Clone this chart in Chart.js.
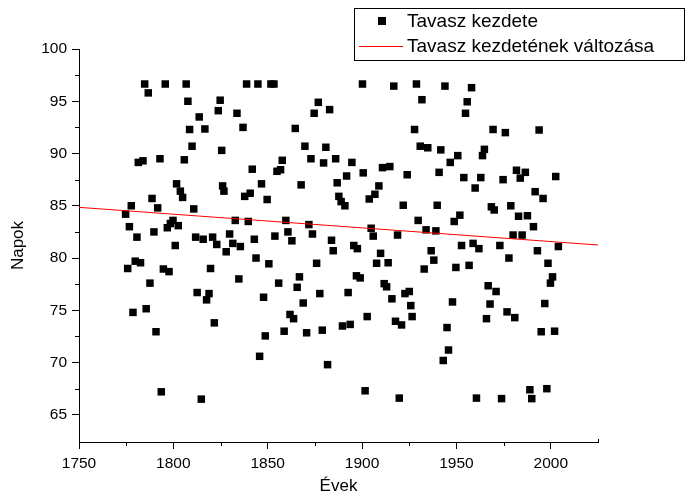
<!DOCTYPE html>
<html lang="hu">
<head>
<meta charset="UTF-8">
<title>Tavasz kezdete</title>
<script src="https://cdn.jsdelivr.net/npm/chart.js"></script>
<style>
  html, body { margin: 0; padding: 0; background: #fff; }
  canvas { display: block; }
</style>
</head>
<body>
<canvas id="myChart" width="686" height="497"></canvas>
<script>
// Adatok
const years = [
  1784.8, 1795.7, 1806.8, 1786.7, 1807.7, 1824.8, 1823.8, 1813.7, 1808.6, 1816.7,
  1809.9, 1825.6, 1781.4, 1783.9, 1792.9, 1805.8, 1801.7, 1803.7, 1804.9, 1826.1,
  1826.8, 1788.7, 1777.7, 1791.7, 1810.8, 1774.7, 1776.7, 1799.8, 1798.4, 1796.8,
  1802.6, 1789.7, 1780.7, 1811.8, 1815.8, 1820.8, 1801.0, 1823.0, 1828.0, 1779.8,
  1782.6, 1775.8, 1794.7, 1797.7, 1819.7, 1787.6, 1812.6, 1818.9, 1817.6, 1778.6,
  1785.6, 1790.8, 1821.7, 1793.6, 1814.8,
  1838.8, 1844.8, 1851.7, 1853.3, 1900.2, 1876.8, 1874.6, 1882.8, 1833.7, 1836.9,
  1864.6, 1869.7, 1880.8, 1857.7, 1872.9, 1879.6, 1886.0, 1894.6, 1841.8, 1854.9,
  1856.8, 1846.7, 1867.7, 1891.8, 1886.8, 1837.8, 1840.7, 1849.7, 1887.7, 1888.9,
  1890.9, 1832.8, 1839.7, 1859.6, 1871.8, 1829.8, 1831.5, 1835.5, 1842.9, 1853.8,
  1860.7, 1862.8, 1873.7, 1883.8, 1895.6, 1897.5,
  1884.7, 1843.8, 1850.6, 1875.9, 1834.7, 1855.8, 1866.8, 1865.6, 1897.0, 1899.0,
  1847.8, 1868.8, 1877.6, 1892.6, 1861.8, 1863.7, 1848.7, 1858.7, 1870.6, 1878.9,
  1889.6, 1893.7, 1845.7, 1881.7,
  1916.8, 1928.8, 1943.9, 1958.0, 1931.7, 1955.7, 1954.8, 1927.8, 1969.4, 1930.8,
  1934.8, 1941.7, 1950.7, 1946.7, 1964.8, 1963.8, 1900.6, 1910.8, 1914.7, 1923.9,
  1940.8, 1953.9, 1962.9, 1908.9, 1906.8, 1903.8, 1959.9, 1921.8, 1939.8, 1968.5,
  1970.0, 1951.8, 1948.8, 1929.7, 1904.8, 1905.9, 1918.8, 1933.9, 1939.1, 1952.7,
  1958.8,
  1909.8, 1907.7, 1913.8, 1936.6, 1938.0, 1932.9, 1961.9, 1949.7, 1956.7, 1911.7,
  1913.0, 1922.7, 1925.0, 1915.8, 1925.8, 1902.7, 1917.7, 1920.9, 1926.5, 1947.9,
  1945.0, 1945.8, 1943.0, 1966.8, 1971.0, 1967.8, 1965.9, 1901.6, 1919.7, 1960.6,
  1975.9, 1993.8, 1981.8, 1986.5, 1983.8, 1974.7, 2002.6, 1991.7, 1995.9, 1978.8,
  1982.9, 1987.6, 1990.8, 1980.0, 1984.8, 1973.0, 2004.0,
  1992.9, 1977.8, 1998.5, 2000.9, 1999.8, 1996.8, 1976.8, 1980.9, 1994.9, 2002.0,
  1988.9, 1997.9, 1973.9, 1989.9
];
const days = [
  96.65, 96.65, 96.65, 95.8, 95.0, 95.1, 94.1, 93.5, 92.3, 92.35,
  90.7, 90.3, 89.15, 89.3, 89.5, 89.4, 87.1, 86.4, 85.8, 86.9,
  86.4, 85.7, 85.0, 84.8, 84.7, 84.2, 83.0, 83.6, 83.3, 82.9,
  83.1, 82.5, 82.0, 82.0, 81.8, 82.0, 81.2, 81.3, 80.6, 79.7,
  79.55, 79.0, 78.95, 78.7, 79.0, 77.6, 76.7, 76.6, 76.0, 74.8,
  75.15, 72.95, 73.8, 67.2, 66.5,
  96.65, 96.65, 96.65, 96.65, 96.65, 94.9, 93.85, 94.2, 93.85, 92.5,
  92.4, 90.7, 90.6, 89.35, 89.5, 89.1, 89.5, 89.15, 88.5, 88.3,
  88.45, 87.1, 87.0, 87.85, 87.2, 85.9, 86.2, 85.6, 85.9, 85.4,
  85.0, 83.6, 83.5, 83.6, 83.2, 82.3, 81.4, 81.1, 81.8, 82.1,
  82.5, 81.65, 82.3, 81.7, 81.2, 80.9,
  80.7, 80.0, 79.45, 79.5, 78.0, 77.6, 78.2, 77.2, 78.3, 78.1,
  76.25, 75.7, 76.6, 76.7, 74.6, 74.2, 72.55, 73.0, 72.85, 73.1,
  73.5, 73.65, 70.6, 69.8,
  96.45, 96.65, 96.45, 96.3, 95.15, 94.95, 93.85, 92.3, 92.3, 90.7,
  90.55, 90.35, 89.8, 89.15, 90.4, 89.8, 88.15, 88.65, 88.75, 87.97,
  88.2, 87.7, 87.7, 86.9, 86.1, 85.65, 86.7, 85.05, 85.05, 84.9,
  84.6, 84.1, 83.5, 83.6, 82.85, 82.1, 82.2, 82.7, 82.6, 81.2,
  81.4,
  80.45, 79.5, 79.55, 80.7, 79.8, 78.95, 80.9, 79.1, 79.3, 77.55,
  77.25, 76.6, 76.8, 76.1, 75.45, 74.4, 73.95, 73.6, 74.4, 75.8,
  73.35, 71.2, 70.2, 77.35, 76.8, 75.6, 74.2, 67.3, 66.6, 66.6,
  92.0, 92.25, 88.4, 88.2, 87.65, 87.5, 87.8, 86.35, 85.7, 85.0,
  84.0, 84.05, 83.0, 82.2, 82.2, 81.2, 81.1,
  80.7, 80.0, 79.5, 78.2, 77.6, 75.65, 74.85, 74.3, 72.95, 73.0,
  67.4, 67.5, 66.55, 66.55
];

// Trendvonal (a változás)
const trendYears = [1750, 2025];
const trendDays = [84.85, 81.25];

// Tengelyek
const xTicks = [1750, 1800, 1850, 1900, 1950, 2000];
const yTicks = [65, 70, 75, 80, 85, 90, 95, 100];
const xMinor = [1775, 1825, 1875, 1925, 1975];
const yMinor = [67.5, 72.5, 77.5, 82.5, 87.5, 92.5, 97.5];

const seriesLabels = ['Tavasz kezdete', 'Tavasz kezdetének változása'];
const FONT = "'Liberation Sans', Arial, sans-serif";

// Kis osztások + jelmagyarázat rajzolása
const extras = {
  id: 'extras',
  afterDraw(chart) {
    const ctx = chart.ctx;
    const xs = chart.scales.x, ys = chart.scales.y;
    const area = chart.chartArea;
    ctx.save();
    ctx.strokeStyle = '#000';
    ctx.lineWidth = 1;
    ctx.beginPath();
    xMinor.forEach(v => {
      const px = Math.round(xs.getPixelForValue(v)) + 0.5;
      ctx.moveTo(px, area.bottom);
      ctx.lineTo(px, area.bottom + 4);
    });
    const endPx = Math.round(xs.getPixelForValue(2025)) + 0.5;
    ctx.moveTo(endPx, area.bottom);
    ctx.lineTo(endPx, area.bottom - 3);
    yMinor.forEach(v => {
      const py = Math.round(ys.getPixelForValue(v)) + 0.5;
      ctx.moveTo(area.left, py);
      ctx.lineTo(area.left - 4, py);
    });
    ctx.stroke();

    // jelmagyarázat
    ctx.strokeRect(354.5, 8.5, 330, 52);
    ctx.fillStyle = '#000';
    ctx.fillRect(378, 17, 8, 8);
    ctx.strokeStyle = '#ff0000';
    ctx.beginPath();
    ctx.moveTo(359, 46.5);
    ctx.lineTo(403, 46.5);
    ctx.stroke();
    ctx.font = '19px ' + FONT;
    ctx.textBaseline = 'middle';
    ctx.textAlign = 'left';
    ctx.fillText(seriesLabels[0], 407, 22);
    ctx.fillText(seriesLabels[1], 407, 47);
    ctx.restore();
  }
};

const ctx = document.getElementById('myChart').getContext('2d');
new Chart(ctx, {
  data: {
    datasets: [{
      type: 'scatter',
      label: seriesLabels[0],
      data: years.map((y, i) => ({ x: y, y: days[i] })),
      pointStyle: 'rect',
      pointRadius: 5.3,
      pointHoverRadius: 5.3,
      backgroundColor: '#000',
      borderWidth: 0,
      order: 2
    }, {
      type: 'line',
      label: seriesLabels[1],
      data: trendYears.map((y, i) => ({ x: y, y: trendDays[i] })),
      borderColor: '#ff0000',
      borderWidth: 1,
      pointRadius: 0,
      fill: false,
      order: 1
    }]
  },
  options: {
    responsive: false,
    animation: false,
    layout: { padding: { top: 49, right: 88, left: 0, bottom: 0 } },
    plugins: { legend: { display: false }, tooltip: { enabled: false } },
    scales: {
      x: {
        type: 'linear',
        min: 1750,
        max: 2025,
        afterBuildTicks: s => { s.ticks = xTicks.map(v => ({ value: v })); },
        afterFit: s => { s.height = 55; },
        ticks: { color: '#000', font: { family: FONT, size: 15.5 }, padding: 5, maxRotation: 0, callback: v => String(v) },
        grid: { drawOnChartArea: false, drawTicks: true, tickLength: 7, color: '#000' },
        border: { display: true, color: '#000', width: 1 },
        title: { display: true, text: 'Évek', color: '#000', font: { family: FONT, size: 17 }, padding: { top: 0, bottom: 0 } }
      },
      y: {
        type: 'linear',
        min: 62.4,
        max: 100,
        afterBuildTicks: s => { s.ticks = yTicks.map(v => ({ value: v })); },
        afterFit: s => { s.width = 79; },
        ticks: { color: '#000', font: { family: FONT, size: 15.5 }, padding: 5, callback: v => String(v) },
        grid: { drawOnChartArea: false, drawTicks: true, tickLength: 7, color: '#000' },
        border: { display: true, color: '#000', width: 1 },
        title: { display: true, text: 'Napok', color: '#000', font: { family: FONT, size: 17 }, padding: { top: 8, bottom: 0 } }
      }
    }
  },
  plugins: [extras]
});
</script>
</body>
</html>
